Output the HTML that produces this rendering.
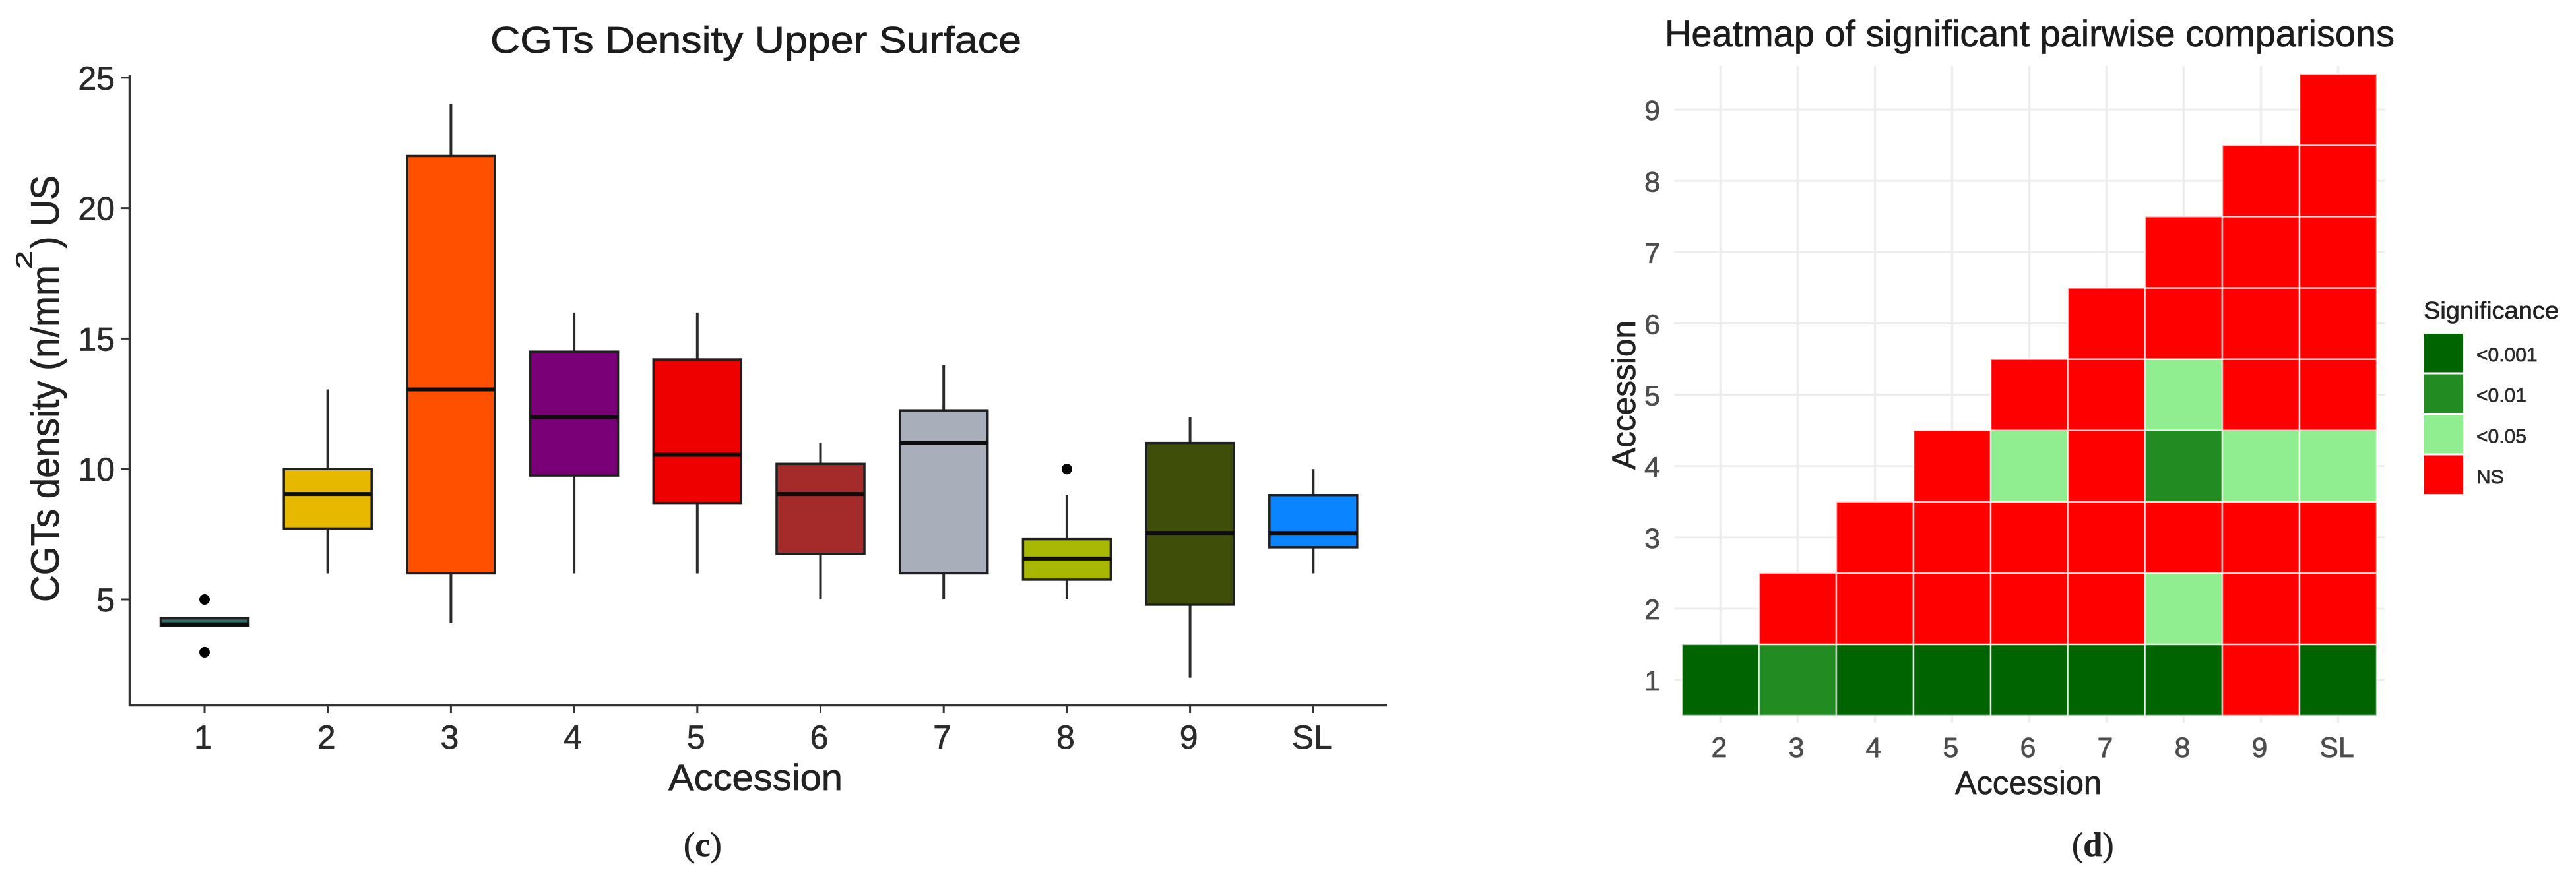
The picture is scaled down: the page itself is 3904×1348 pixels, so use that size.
<!DOCTYPE html>
<html lang="en">
<head>
<meta charset="utf-8">
<title>CGTs density boxplot and pairwise heatmap</title>
<style>
html,body{margin:0;padding:0;background:#fff;}
svg{display:block;font-family:"Liberation Sans",Arial,sans-serif;}
</style>
</head>
<body>
<svg id="figure" xmlns="http://www.w3.org/2000/svg" width="3904" height="1348" viewBox="0 0 3904 1348">
  <rect x="0" y="0" width="3904" height="1348" fill="#ffffff"/>
  <g id="box-panel"></g>
  <g id="heat-panel"></g>

  <text x="743" y="80" font-size="57" fill="#1c1c1c" textLength="805" lengthAdjust="spacingAndGlyphs">CGTs Density Upper Surface</text>
  <text transform="translate(89,913) rotate(-90)" font-size="60" fill="#222" textLength="511" lengthAdjust="spacingAndGlyphs">CGTs density (n/mm</text>
  <text transform="translate(48,408) rotate(-90)" font-size="34" fill="#222" textLength="28" lengthAdjust="spacingAndGlyphs">2</text>
  <text transform="translate(89,377) rotate(-90)" font-size="60" fill="#222" textLength="111" lengthAdjust="spacingAndGlyphs">) US</text>
  <text x="1013" y="1198" font-size="56" fill="#222" textLength="264" lengthAdjust="spacingAndGlyphs">Accession</text>
  <text x="1036" y="1298" font-size="52" fill="#222" style="font-family:'Liberation Serif',serif">(<tspan font-weight="bold">c</tspan>)</text>

  <text x="2523" y="70" font-size="56" fill="#1c1c1c" textLength="1106" lengthAdjust="spacingAndGlyphs">Heatmap of significant pairwise comparisons</text>
  <text transform="translate(2478,712) rotate(-90)" font-size="50" fill="#222" textLength="226" lengthAdjust="spacingAndGlyphs">Accession</text>
  <text x="2963" y="1204" font-size="50" fill="#222" textLength="222" lengthAdjust="spacingAndGlyphs">Accession</text>
  <text x="3673" y="483" font-size="36" fill="#222" textLength="205" lengthAdjust="spacingAndGlyphs">Significance</text>
  <text x="3140" y="1298" font-size="52" fill="#222" style="font-family:'Liberation Serif',serif">(<tspan font-weight="bold">d</tspan>)</text>
</svg>
<script>
/* ---------- boxplot data ---------- */
const accessions = ['1','2','3','4','5','6','7','8','9','SL'];
const whiskerLow  = [4.0, 6, 4.1, 6, 6, 5, 5, 5, 2, 6];
const q1          = [4.0, 7.72, 6, 9.75, 8.7, 6.75, 6, 5.76, 4.8, 7];
const median      = [4.05, 9.04, 13.05, 12, 10.55, 9.04, 11, 6.57, 7.55, 7.55];
const q3          = [4.28, 10, 22, 14.5, 14.2, 10.2, 12.25, 7.31, 11, 9];
const whiskerHigh = [4.28, 13.05, 24, 16, 16, 11, 14, 9, 12, 10];
const outliers    = [[5, 2.98], [], [], [], [], [], [], [10], [], []];
const boxFills    = ['#2f6b66','#e6b800','#ff5000','#7a0078','#ee0000','#a52a2a','#a9aebb','#a8b800','#3f4f0a','#0a84ff'];
const yTicks      = [5, 10, 15, 20, 25];

/* ---------- heatmap data ---------- */
const heatCols = ['2','3','4','5','6','7','8','9','SL'];
const heatRowLabels = ['1','2','3','4','5','6','7','8','9'];
const row1 = ['<0.001','<0.01','<0.001','<0.001','<0.001','<0.001','<0.001','NS','<0.001'];
const row2 = ['NS','NS','NS','NS','NS','<0.05','NS','NS'];
const row3 = ['NS','NS','NS','NS','NS','NS','NS'];
const row4 = ['NS','<0.05','NS','<0.01','<0.05','<0.05'];
const row5 = ['NS','NS','<0.05','NS','NS'];
const row6 = ['NS','NS','NS','NS'];
const row7 = ['NS','NS','NS'];
const row8 = ['NS','NS'];
const row9 = ['NS'];
const heatRows = [row1,row2,row3,row4,row5,row6,row7,row8,row9];
const levels = ['<0.001','<0.01','<0.05','NS'];
const levelFills = ['#006400','#228b22','#90ee90','#ff0000'];

const NS = 'http://www.w3.org/2000/svg';
function mk(parent, tag, attrs, txt){
  const el = document.createElementNS(NS, tag);
  for (const k in attrs) el.setAttribute(k, attrs[k]);
  if (txt !== undefined) el.textContent = txt;
  parent.appendChild(el);
  return el;
}

/* ---------- boxplot scales ---------- */
const xBox = i => 310 + 186.7 * i;
const yBox = v => 909 + (5 - v) * 39.56;
const boxWidth = 133;
const P = document.getElementById('box-panel');
const axisInk = '#333333';

let el;
el = mk(P, 'line', {x1:196.5, x2:196.5, y1:113, y2:1071, stroke:axisInk, 'stroke-width':3.5});


el = mk(P, 'line', {x1:195, x2:2102, y1:1069.5, y2:1069.5, stroke:axisInk, 'stroke-width':3.5});



yTicks.forEach(t => {
  const y = yBox(t);
  let e = mk(P, 'line', {x1:183, x2:196, y1:y, y2:y, stroke:axisInk, 'stroke-width':3});
  
  
  e = mk(P, 'text', {x:174, y:y + 18, 'text-anchor':'end', 'font-size':50, fill:'#2b2b2b'}, String(t));
  
  
});

accessions.forEach((name, i) => {
  const x = xBox(i);
  let e = mk(P, 'line', {x1:x, x2:x, y1:1071, y2:1081, stroke:axisInk, 'stroke-width':3});
  
  
  e = mk(P, 'text', {x:x - 2, y:1135, 'text-anchor':'middle', 'font-size':50, fill:'#2b2b2b'}, name);
  
  

  const g = mk(P, 'g', {});
  
  

  e = mk(g, 'line', {x1:x, x2:x, y1:yBox(whiskerHigh[i]), y2:yBox(whiskerLow[i]), stroke:'#2a2a2a', 'stroke-width':4});
  
  
  e = mk(g, 'rect', {x:x - boxWidth/2, y:yBox(q3[i]), width:boxWidth, height:yBox(q1[i]) - yBox(q3[i]), fill:boxFills[i], stroke:'#1f1f1f', 'stroke-width':3.5});
  
  
  e = mk(g, 'line', {x1:x - boxWidth/2, x2:x + boxWidth/2, y1:yBox(median[i]), y2:yBox(median[i]), stroke:'#0d0d0d', 'stroke-width':6});
  
  
  outliers[i].forEach(v => {
    const d = mk(g, 'circle', {cx:x, cy:yBox(v), r:8, fill:'#000'});
    
    
  });
});

/* ---------- heatmap scales ---------- */
const H = document.getElementById('heat-panel');
const colW = 117, rowH = 108.1;
const xHeat = c => 2549 + colW * (c + 0.5);
const yHeat = r => 1085 - rowH * (r + 0.5);

heatRowLabels.forEach((name, r) => {
  const y = yHeat(r);
  let e = mk(H, 'line', {x1:2537, x2:3614, y1:y, y2:y, stroke:'#ededed', 'stroke-width':3});
  
  
  e = mk(H, 'text', {x:2516, y:y + 16, 'text-anchor':'end', 'font-size':43, fill:'#4d4d4d'}, name);
  
  
});
heatCols.forEach((name, c) => {
  const x = xHeat(c);
  let e = mk(H, 'line', {x1:x, x2:x, y1:100, y2:1096, stroke:'#ededed', 'stroke-width':3.5});
  
  
  e = mk(H, 'text', {x:x - 2, y:1148, 'text-anchor':'middle', 'font-size':43, fill:'#4d4d4d'}, name);
  
  
});

heatRows.forEach((cells, r) => {
  cells.forEach((lvl, k) => {
    const c = r + k;  /* each row starts at the diagonal */
    const e = mk(H, 'rect', {x:xHeat(c) - colW/2, y:yHeat(r) - rowH/2, width:colW, height:rowH, fill:levelFills[levels.indexOf(lvl)], stroke:'#ffffff', 'stroke-opacity':0.7, 'stroke-width':2.5});
    
    
  });
});

/* ---------- legend ---------- */
levels.forEach((lvl, i) => {
  const top = 506 + 61.5 * i;
  let e = mk(H, 'rect', {x:3674, y:top, width:59, height:58.5, fill:levelFills[i]});
  
  
  e = mk(H, 'text', {x:3753, y:548 + 61.7 * i, 'font-size':30, fill:'#2b2b2b'}, lvl);
  
  
});

/* slightly heavier glyphs, as in the soft reference raster */
document.querySelectorAll('#figure text').forEach(t => {
  t.setAttribute('stroke', t.getAttribute('fill'));
  t.setAttribute('stroke-width', '0.7');
});
</script>
</body>
</html>
